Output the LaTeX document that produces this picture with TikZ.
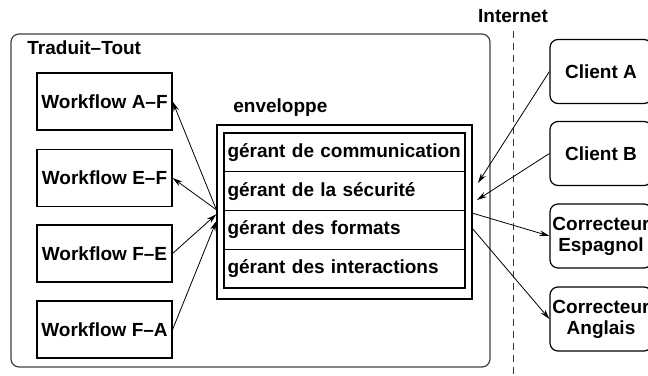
\documentclass[tikz,border=0pt]{standalone}
\usepackage{fontspec}
\setmainfont{Liberation Sans}
\usetikzlibrary{arrows.meta}

\begin{document}
\begin{tikzpicture}[x=0.5pt, y=-0.5pt, font=\fontsize{9.5}{10.5}\selectfont\bfseries]

\tikzstyle{box1}=[rectangle, draw, semithick, minimum width=67.5pt, minimum height=28.5pt, inner sep=1pt]
\tikzstyle{box2}=[rectangle, draw, semithick, minimum width=120.5pt, minimum height=19.4pt, text width=117pt, inner xsep=1.75pt, inner ysep=1pt, align=left]
\tikzstyle{box3}=[rectangle, draw, semithick, rounded corners=4pt, minimum width=51pt, minimum height=32pt, align=center, inner sep=1pt]
\tikzstyle{titre}=[anchor=west, inner sep=0pt]
\tikzstyle{arrow}=[-{Stealth[length=5pt,width=2.8pt]}, thin]

\useasboundingbox (0,0) rectangle (648,375);

% cadre Traduit-Tout
\node (T) [rectangle, draw, black!75, semithick, rounded corners=4pt, minimum width=239.5pt, minimum height=166.5pt] at (250.5,200.5) {};
\node (Ttitre) [titre] at (27,48) {Traduit--Tout};

\node (AF) [box1] at (104.5,101.5) {Workflow A--F};
\node (EF) [box1] at (104.5,178)   {Workflow E--F};
\node (FE) [box1] at (104.5,253.5) {Workflow F--E};
\node (FA) [box1] at (104.5,329.5) {Workflow F--A};

% enveloppe
\node (env) [rectangle, draw, semithick, minimum width=127.5pt, minimum height=87pt] at (344.5,212) {};
\node (envtitre) [titre] at (233,108) {enveloppe};
\node (G1) [box2] at (344.5,152.4) {gérant de communication};
\node (G2) [box2] at (344.5,191.1) {gérant de la sécurité};
\node (G3) [box2] at (344.5,229.9) {gérant des formats};
\node (G4) [box2] at (344.5,268.6) {gérant des interactions};

% Internet
\node (net) at (513,16) {Internet};
\coordinate (haut) at (513,31);
\coordinate (bas) at (513,375);
\draw [dashed, dash pattern=on 3.5pt off 2.5pt, black!80] (haut) -- (bas);

\node (CA) [box3] at (601,71.5) {Client A};
\node (CB) [box3] at (601,153.5) {Client B};
\node (CE) [box3] at (601,236) {Correcteur\\Espagnol};
\node (CN) [box3] at (601,319) {Correcteur\\Anglais};

\coordinate (pA) at (478,183);
\coordinate (pB) at (477,200);
\coordinate (pE) at (472,213);
\coordinate (pN) at (472,228);

\draw [arrow] (env.179) -- (AF.east);
\draw [arrow] (env.179) -- (EF.east);
\draw [arrow] (FE.east) -- (env.181);
\draw [arrow] (FA.east) -- (env.184);

\draw [arrow] (CA.west) -- (pA);
\draw [arrow] (CB.west) -- (pB);
\draw [arrow] (pE) -- (CE.west);
\draw [arrow] (pN) -- (CN.west);

\end{tikzpicture}
\end{document}
